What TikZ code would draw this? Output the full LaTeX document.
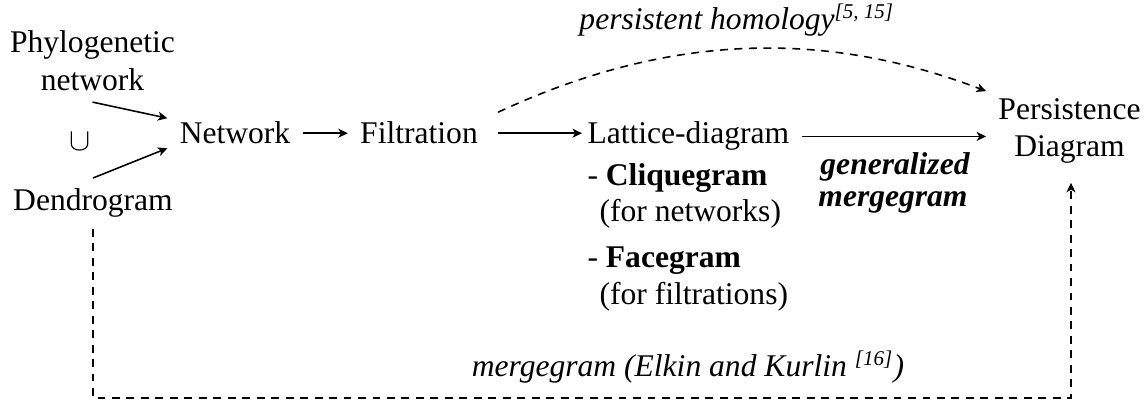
\documentclass[tikz,border=0pt]{standalone}
\usepackage{fontspec}
\setmainfont{Liberation Serif}
\usetikzlibrary{calc,arrows.meta}
\begin{document}
\begin{tikzpicture}[x=0.38pt,y=-0.38pt,
  txt/.style={font=\fontsize{12}{14.4}\selectfont, inner xsep=4.5pt, inner ysep=4pt},
  lbl/.style={font=\fontsize{12}{14.4}\selectfont\itshape, inner sep=0pt},
  tip/.style={-{Stealth[length=3.6pt,width=3.4pt,inset=1pt]}},
  arr/.style={tip, line width=0.6pt},
  darr/.style={tip, line width=0.6pt, dash pattern=on 3pt off 2.5pt}]
\useasboundingbox (0,0) rectangle (1148,400);

\node[txt, align=center] (phylo) at (92.5,61) {Phylogenetic\\network};
\node[txt] (cup) at (80,142) {$\cup$};
\node[txt, anchor=base] (den) at (93,211) {Dendrogram};
\node[txt, anchor=base] (net) at (235,144) {Network};
\node[txt, anchor=base] (filt) at (419,144) {Filtration};
\node[txt, anchor=base west, inner xsep=0pt] (lat) at (587,144) {Lattice-diagram};
\node[txt, align=center] (pd) at (1069.5,131) {Persistence\\Diagram};

\node[txt, anchor=base west, inner sep=0pt] (cq) at (587,186) {- \textbf{Cliquegram}};
\node[txt, anchor=base west, inner sep=0pt] (cqn) at (599,222) {(for networks)};
\node[txt, anchor=base west, inner sep=0pt] (fg) at (587,268) {- \textbf{Facegram}};
\node[txt, anchor=base west, inner sep=0pt] (fgn) at (599,305) {(for filtrations)};

\node[lbl, font=\fontsize{12}{14.4}\selectfont\bfseries\itshape, anchor=base] (gm1) at (895,175) {generalized};
\node[lbl, font=\fontsize{12}{14.4}\selectfont\bfseries\itshape, anchor=base] (gm2) at (893,207) {mergegram};

\node[lbl, anchor=base] (ph) at (737,30) {persistent homology\textsuperscript{[5, 15]}};
\node[lbl, anchor=base] (mg) at (688,377) {mergegram (Elkin and Kurlin \textsuperscript{[16]})};

\draw[arr] (phylo.south) -- ([yshift=5.7pt]net.west);
\draw[arr] (den.north) -- ([yshift=-5.7pt]net.west);
\draw[arr] (net.east) -- (filt.west);
\draw[arr] ([xshift=3pt]filt.east) -- ([xshift=-1.9pt]filt.east -| lat.west);
\draw[arr] ([xshift=4.5pt]lat.east) -- (lat.east -| pd.west);

\draw[darr] ($(filt.east)+(8,-21)$) .. controls (662,36) and (818,27) .. ($(pd.north west)+(0,4)$);

\coordinate (bl) at (93,398);
\coordinate (br) at (1071,398);
\draw[darr] (den.south) -- (bl) -- (br) -- ([yshift=-3pt]br |- pd.south);
\end{tikzpicture}
\end{document}
